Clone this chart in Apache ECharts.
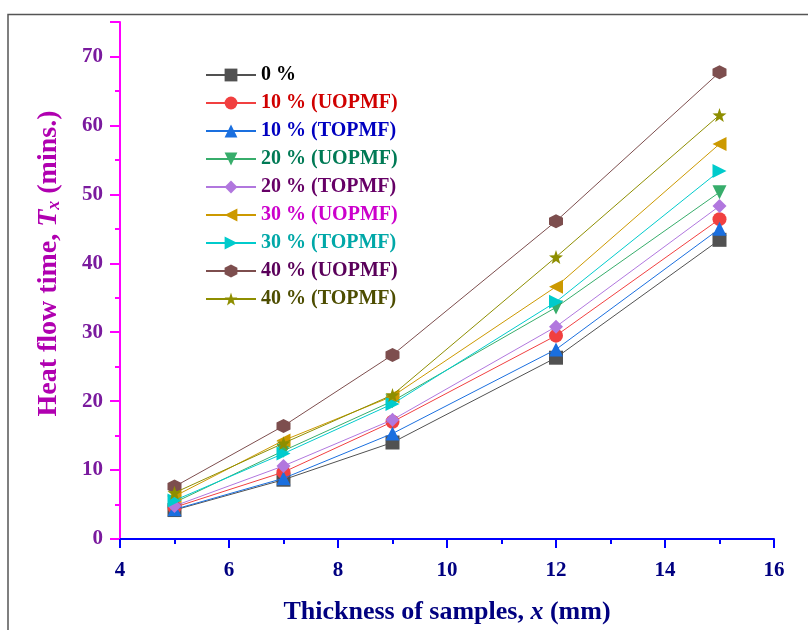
<!DOCTYPE html>
<html>
<head>
<meta charset="utf-8">
<script src="https://cdn.jsdelivr.net/npm/echarts@6/dist/echarts.min.js"></script>
<style>
  html, body { margin: 0; padding: 0; background: #fff; }
  #chart { width: 808px; height: 630px; }
</style>
</head>
<body>
<div id="chart"></div>
<script>
// thickness of samples (mm)
var thickness = [5, 7, 9, 12, 15];

// heat flow time (mins.) per sample
var pct0 = [4.2, 8.6, 14.0, 26.3, 43.4];
var pct10U = [4.6, 9.7, 17.0, 29.5, 46.4];
var pct10T = [4.3, 8.8, 15.3, 27.5, 45.0];
var pct20U = [5.3, 12.8, 20.0, 33.6, 50.3];
var pct20T = [4.8, 10.6, 17.3, 30.8, 48.3];
var pct30U = [6.2, 14.3, 20.7, 36.6, 57.3];
var pct30T = [5.6, 12.4, 19.6, 34.4, 53.4];
var pct40U = [7.6, 16.4, 26.7, 46.1, 67.7];
var pct40T = [6.7, 13.9, 20.9, 40.9, 61.5];

var names = ['0 %', '10 % (UOPMF)', '10 % (TOPMF)', '20 % (UOPMF)', '20 % (TOPMF)',
  '30 % (UOPMF)', '30 % (TOPMF)', '40 % (UOPMF)', '40 % (TOPMF)'];

var hexagon = 'path://M0,-10L8.66,-5L8.66,5L0,10L-8.66,5L-8.66,-5Z';
var star = 'path://M0,-10L2.35,-3.24L9.51,-3.09L3.8,1.24L5.88,8.09L0,4L-5.88,8.09L-3.8,1.24L-9.51,-3.09L-2.35,-3.24Z';

// colour, symbol, rotation, legend text colour
var styles = [
  ['#515151', 'rect', 0, '#000000'],
  ['#f14040', 'circle', 0, '#d00000'],
  ['#1a6fdf', 'triangle', 0, '#0000c0'],
  ['#37ad6b', 'triangle', 180, '#007a55'],
  ['#b177de', 'diamond', 0, '#660066'],
  ['#cc9900', 'triangle', 90, '#cc00cc'],
  ['#00cbcc', 'triangle', -90, '#00a8a8'],
  ['#7d4e4e', hexagon, 0, '#5a005a'],
  ['#8e8e00', star, 0, '#4d4d00']
];

var values = [pct0, pct10U, pct10T, pct20U, pct20T, pct30U, pct30T, pct40U, pct40T];

var chart = echarts.init(document.getElementById('chart'));

var series = values.map(function (vals, i) {
  return {
    name: names[i],
    type: 'line',
    data: vals.map(function (v, j) { return [thickness[j], v]; }),
    symbol: styles[i][1],
    symbolRotate: styles[i][2],
    symbolSize: 14,
    color: styles[i][0],
    lineStyle: { width: 1, color: styles[i][0] },
    itemStyle: { color: styles[i][0] },
    z: 2 + i
  };
});

var option = {
  animation: false,
  grid: { left: 120, right: 34, top: 22, bottom: 84 },
  legend: {
    orient: 'vertical',
    left: 205,
    top: 65,
    padding: 0,
    itemWidth: 50,
    itemHeight: 16,
    itemGap: 8,
    data: names.map(function (n, i) {
      return { name: n, textStyle: { color: styles[i][3] } };
    }),
    textStyle: {
      fontFamily: 'Liberation Serif',
      fontWeight: 'bold',
      fontSize: 20,
      lineHeight: 20
    }
  },
  xAxis: {
    type: 'value',
    min: 4,
    max: 16,
    interval: 2,
    name: 'Thickness of samples, {i|x} (mm)',
    nameLocation: 'middle',
    nameGap: 60,
    nameTextStyle: {
      color: '#000080',
      fontFamily: 'Liberation Serif',
      fontWeight: 'bold',
      fontSize: 26,
      rich: {
        i: { fontStyle: 'italic', fontFamily: 'Liberation Serif', fontWeight: 'bold', fontSize: 26, color: '#000080' }
      }
    },
    axisLine: { lineStyle: { color: '#0000ff', width: 2 } },
    axisTick: { length: 9, lineStyle: { color: '#0000ff', width: 2 } },
    minorTick: { show: true, splitNumber: 2, length: 5, lineStyle: { color: '#0000ff', width: 2 } },
    splitLine: { show: false },
    axisLabel: {
      color: '#000080',
      fontFamily: 'Liberation Serif',
      fontWeight: 'bold',
      fontSize: 21,
      margin: 21
    }
  },
  yAxis: {
    type: 'value',
    min: 0,
    max: 75,
    interval: 10,
    name: 'Heat flow time, {i|T}{s|x} (mins.)',
    nameLocation: 'middle',
    nameGap: 57,
    nameTextStyle: {
      color: '#b000b0',
      fontFamily: 'Liberation Serif',
      fontWeight: 'bold',
      fontSize: 28,
      padding: [0, 0, 0, 34],
      rich: {
        i: { fontStyle: 'italic', fontFamily: 'Liberation Serif', fontWeight: 'bold', fontSize: 28, color: '#b000b0' },
        s: { fontStyle: 'italic', fontFamily: 'Liberation Serif', fontWeight: 'bold', fontSize: 18, color: '#b000b0', verticalAlign: 'bottom', padding: [9, 0, 0, 0] }
      }
    },
    axisLine: { lineStyle: { color: '#ff00ff', width: 2 } },
    axisTick: { length: 10, lineStyle: { color: '#ff00ff', width: 2 } },
    minorTick: { show: true, splitNumber: 2, length: 5, lineStyle: { color: '#ff00ff', width: 2 } },
    splitLine: { show: false },
    axisLabel: {
      color: '#7a1a9e',
      fontFamily: 'Liberation Serif',
      fontWeight: 'bold',
      fontSize: 21,
      margin: 17,
      showMaxLabel: false
    }
  },
  graphic: [
    {
      type: 'polyline',
      shape: { points: [[8, 640], [8, 14.5], [820, 14.5]] },
      style: { stroke: '#555', lineWidth: 1.5, fill: null },
      silent: true
    }
  ],
  series: series
};

chart.setOption(option);
</script>
</body>
</html>
